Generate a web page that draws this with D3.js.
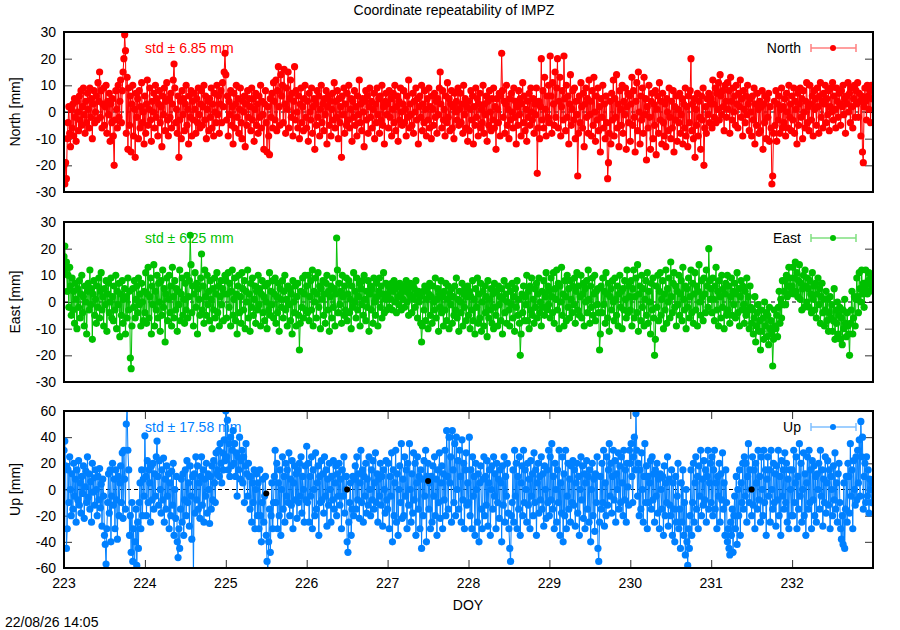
<!DOCTYPE html>
<html><head><meta charset="utf-8">
<script src="https://cdn.jsdelivr.net/npm/d3@7"></script>
<style>body{margin:0;background:#fff} text{font-family:"Liberation Sans",Arial,Helvetica,sans-serif}</style>
</head><body><svg id="c" width="900" height="630"></svg>
<script>
const startDOY = 223, stepDOY = 0.01;
const xTicks = [223,224,225,226,227,228,229,230,231,232];
const neTicks = [-30,-20,-10,0,10,20,30];
const upTicks = [-60,-40,-20,0,20,40,60];

const north = [
-20,-27,-19,-25,-10,-4,2,-8,-13,1, -6,3,-9,5,-2,-11,4,0,-7,6, -3,8,-5,2,9,-1,-8,4,-4,7, 1,-6,9,-2,5,-10,3,8,-4,0, 6,-3,11,4,15,-2,8,-6,3,9,
-5,2,10,-8,4,-1,7,-11,3,-4, 5,-9,-20,-3,8,1,-6,10,-2,4, 12,-4,8,15,20,29,23,-8,13,-14, 9,-5,6,-15,3,10,-9,1,-17,7, -2,5,-10,8,-6,2,11,-4,0,-12,
6,-8,3,12,-5,1,9,-3,-11,4, 0,7,-6,10,-2,5,-9,3,8,-4, 2,-13,6,-1,9,-7,4,11,-3,-9, 5,-2,7,-6,3,12,18,9,-4,1, -8,6,-17,-3,4,-10,8,-1,5,-7,
3,10,-5,1,-12,6,-2,8,-9,4, -3,7,1,-8,5,-4,9,-1,-6,3, 8,-5,2,10,-3,6,-10,1,4,-7, 5,-2,9,-6,3,-9,7,0,-4,10, -1,6,-8,3,8,-4,11,2,15,22,
14,-3,6,-9,4,-1,8,-5,2,-12, 7,-6,3,10,-2,5,-8,1,9,-4, -10,4,0,6,-13,3,-5,8,-2,5, 2,-7,9,-3,5,-11,1,7,-5,3, -8,6,-2,10,-6,4,-1,-14,3,8,
-4,-15,2,-9,-16,5,-2,7,-6,11, 4,-3,12,-7,8,17,2,-5,14,6, 10,-4,16,3,-8,9,1,15,-6,5, 12,-2,7,-9,4,17,-3,8,0,-6, 6,-10,3,9,-4,2,-7,5,10,-2,
-6,4,-11,7,0,-3,9,-8,2,5, -14,3,-5,8,-2,6,-9,1,10,-4, 3,-7,5,-1,8,-12,2,6,-5,4, -9,1,7,-3,11,-6,4,-2,8,-10, 5,-4,2,-17,6,-1,9,-8,3,-5,
7,-3,10,-6,1,5,-11,4,-2,8, -5,2,-9,6,-1,12,-4,3,-7,5, 0,-13,4,8,-3,6,-8,2,9,-2, 4,-6,1,7,-10,3,-4,9,-1,5, -8,6,-3,10,-5,2,-12,4,7,-1,
3,-6,8,-2,5,-9,1,7,-4,10, -7,2,6,-11,4,-3,9,0,-5,3, 8,-4,1,-9,6,-2,12,-6,3,-1, -5,7,-8,4,0,9,-3,5,-12,2, 6,-2,10,-7,3,-4,8,1,-9,5,
-3,9,-6,2,-10,6,1,-5,7,-2, 4,-8,5,-1,9,15,3,-6,8,-3, 1,-9,6,-4,11,-2,5,-7,3,8, -6,2,-10,7,0,4,-3,9,-5,1, 7,-4,3,-8,10,-1,5,-6,2,-11,
4,-7,1,8,-3,6,-12,2,-5,9, -2,5,-9,3,7,-6,1,-4,10,-8, 3,-1,6,-11,4,-5,8,0,-7,5, -3,9,-6,2,-14,5,1,-4,7,-9, 6,22,8,-2,4,-8,3,10,-5,1,
-10,5,-3,7,0,-6,9,-2,4,-12, 2,-5,8,-1,5,-9,3,11,-4,6, -7,1,-11,4,-2,7,-5,9,0,-3, 5,-8,3,-1,9,-23,-6,4,-10,2, 20,-3,8,-6,13,1,-9,6,-2,10,
-4,21,6,-8,11,3,-5,15,-2,9, 20,-6,4,13,-9,2,8,-3,21,5, -7,10,-2,6,-12,3,14,-5,1,8, -3,9,-10,4,-1,-24,-8,6,-4,11, 2,-6,7,-13,3,9,-2,5,-8,12,
-1,4,-9,8,-5,13,0,-11,6,-3, 9,-7,2,-15,5,-2,10,-6,3,-10, 6,-4,-25,-19,-8,4,-12,7,-3,12, -9,5,-2,14,-6,3,-13,8,1,-5, 10,-8,4,-1,9,-14,2,7,-4,6,
-11,3,13,-5,8,-2,-15,4,11,-7, 15,0,-12,6,-3,9,-8,13,-1,5, -18,2,-6,10,-2,-14,4,7,-10,3, -5,8,-16,1,6,-8,11,-3,4,-12, 7,-4,-9,3,-13,5,0,-7,9,-2,
-10,4,-6,8,-15,2,-3,6,-11,1, -4,7,-8,-1,5,-12,3,-6,9,-9, 2,-13,6,-4,8,20,-7,3,-10,5, -17,1,-5,7,-9,4,-2,-14,6,-3, 9,-20,-6,2,-8,5,-1,7,-4,3,
5,-6,12,3,-2,9,-4,7,1,11, -3,14,6,-1,8,2,-7,10,4,-2, 11,1,8,-8,13,4,-3,9,0,6, -5,10,3,-6,7,2,12,-2,5,-9, 8,1,-4,6,-1,10,3,-7,5,0,
-9,6,-3,9,-12,3,-5,7,1,-8, 4,-7,2,8,-14,3,-4,6,-10,5, -2,7,-11,2,-6,-27,-24,-8,4,-5, 8,-11,3,-3,6,-8,1,9,-6,2, -4,5,-9,7,0,-6,10,-2,3,-7,
6,-3,9,-8,4,1,-12,7,-5,3, 9,-2,5,-10,8,0,-6,4,11,-4, 2,-7,10,3,-3,6,-9,8,1,5, -5,9,2,-8,6,11,-2,4,-6,7, 3,10,-4,5,-1,8,-7,2,9,0,
11,-3,6,1,-6,9,4,-2,7,3, -5,8,2,10,-1,5,-8,6,3,11, 0,7,-4,9,2,-6,5,10,-2,8, 3,11,-2,7,4,-9,6,-15,-19,2, 9,4,-3,10,6,1,8,-4,10,5
];
const east = [
17,21,12,15,4,10,-2,13,6,-5, 9,-3,4,-8,7,1,-10,5,-2,8, -6,3,10,-4,2,-9,6,0,-12,4, 7,-3,12,-1,5,-14,3,8,-5,1, -8,6,-2,9,-6,4,11,-3,2,-9,
5,-1,8,-11,3,7,-4,0,9,-6, 2,-7,6,-3,10,-10,4,-1,7,-13, 3,-5,8,-8,1,5,-12,2,-6,9, -3,4,-21,-25,-9,5,-2,8,-6,1, 6,-4,9,-1,3,-9,7,0,-7,4,
-4,11,-8,3,13,-6,2,9,-12,6, -1,14,-9,4,-3,10,-6,7,0,-11, 8,-5,12,-2,5,-15,3,9,-7,1, 10,-4,6,-9,13,2,-6,8,-3,5, -11,4,-1,12,-7,3,9,-5,1,-8,
7,-3,10,-6,2,8,25,14,-4,6, -9,3,11,-2,7,-12,5,1,-5,9, 18,-3,6,-8,12,2,-5,10,-1,4, -7,8,1,-10,5,-3,9,-6,3,11, -4,6,-9,2,8,-1,5,-7,3,10,
8,-6,3,11,-2,7,-9,4,12,-5, 1,9,-7,3,-12,6,10,-4,2,-8, 11,5,-3,8,-10,4,0,12,-6,3, -11,7,-2,9,-5,1,6,-8,4,-3, 10,-1,5,-9,3,8,-4,2,-7,6,
0,-10,7,-3,11,-5,4,-1,8,-6, 3,9,-8,2,-4,7,-11,5,1,-2, 8,-6,4,10,-3,1,-9,6,-1,5, -7,3,-12,8,0,-4,6,-9,2,7, -5,-18,-8,4,-2,9,-6,3,10,-3,
6,-4,10,-7,2,8,-3,12,-9,4, 0,9,-6,3,11,-2,6,-10,5,1, 8,-5,3,-8,7,10,-3,4,-11,2, 6,-6,9,-2,5,-9,3,24,12,-4, 7,-1,4,-8,10,2,-5,6,-3,9,
-7,3,8,-4,1,-10,6,-2,11,0, 4,-6,9,-3,2,7,-9,5,-1,8, -5,10,1,-7,4,-2,8,-11,3,6, -3,5,-8,9,0,-5,7,2,-9,4, 9,-2,6,-6,3,11,-4,1,7,-3,
3,6,-2,5,1,7,-3,4,8,0, 5,-4,6,2,-1,7,3,-3,5,1, 6,-2,4,8,0,5,-5,3,7,2, -4,6,1,5,-2,8,3,-6,4,0, 2,-8,-15,-9,4,-3,6,-7,1,5,
-10,3,7,-5,2,-8,6,0,-3,9, -6,1,5,-11,3,-2,8,-4,2,-9, 4,-3,7,-7,1,6,-10,3,-1,5, -8,2,-5,6,-3,9,-6,1,-11,4, 0,-4,7,-9,3,-2,5,-7,2,6,
-5,4,-10,2,-3,8,-7,1,-12,5, -2,9,-8,3,-6,7,-11,0,4,-9, 6,-4,2,-13,8,-6,1,-3,5,-8, 3,-10,7,-2,-5,4,-9,6,-1,2, -7,5,-12,1,8,-4,3,-8,0,6,
-3,-9,4,-1,7,-6,2,-11,5,-2, 8,-5,1,-8,-20,-12,3,-4,6,-7, 2,-1,10,-7,4,-10,6,-3,9,-5, 1,-8,5,-2,7,-6,3,9,-4,0, -9,4,-2,8,-5,2,11,-3,6,-1,
4,-6,9,2,-4,11,-8,5,1,12, -3,7,-10,6,0,13,-5,3,-9,8, 2,-7,10,-2,5,-6,8,1,-4,6, -1,9,-8,4,11,-3,6,-5,2,10, -6,3,7,-9,5,0,8,-4,12,1,
-8,6,-2,9,-5,3,10,-7,4,-1, 5,-4,-18,-12,6,-4,9,-1,4,-8, 11,3,-6,7,-11,2,5,-3,8,0, -7,9,1,-5,6,-9,3,10,-2,4, -10,5,-3,8,1,-6,12,-4,6,2,
-3,8,-9,5,12,-6,2,9,-4,14, -11,3,6,-7,10,-2,5,-9,1,8, -5,11,-8,4,0,-12,7,-3,9,-6, -20,-14,6,-2,10,-7,4,11,-5,1, 8,-10,3,-3,12,-8,5,0,9,-6,
15,2,-4,7,11,-2,6,-9,4,-1, 10,-5,3,8,-7,13,1,-3,6,-10, 5,-2,9,-6,2,12,-4,7,-8,3, 11,-3,6,-9,4,14,0,-5,8,2, -7,9,3,-4,12,6,-2,20,8,1,
5,-4,9,1,-7,6,13,-3,4,-9, 8,2,-6,10,-2,5,-10,3,7,-5, 10,-3,6,-8,2,9,-5,4,-1,7, -6,3,11,-4,5,-9,2,8,-3,6, -1,-8,4,-5,9,-3,2,-10,6,-2,
-8,-3,-12,-6,2,-15,-9,-4,-1,-11, -7,-18,-3,-11,-6,-14,0,-9,-4,-13, -5,-16,-2,-10,-7,-12,-24,-14,-3,-9, -10,-5,-13,-2,4,-8,1,-6,8,-1, 4,8,-1,10,2,6,13,3,9,5,
6,13,3,9,15,4,11,2,8,14, 1,7,-3,5,10,-2,12,6,0,9, 5,-2,8,3,-4,11,1,6,-3,7, -6,3,9,-1,5,-8,2,7,-4,1, -9,-3,4,-7,1,-11,-4,2,-6,-1,
-11,-7,5,-14,-3,-8,0,-12,-5,-2, -14,-6,-16,-3,-10,1,-8,-13,-4,-9, -12,-20,-8,-3,4,-12,-6,2,-9,1, 9,2,-4,11,5,0,12,3,7,-2, 5,12,7,3,8,11,4,9,6,8
];
const up = [
30,37,18,-45,-30,15,-10,25,0,-20, 12,-15,20,-5,8,-25,15,-8,22,-12, 5,-18,10,-3,18,-22,2,14,-10,25, -6,12,-15,6,-25,20,-2,9,-12,15, 0,-20,10,-8,16,-14,4,-28,8,-5,
-35,-42,-57,-30,-10,12,-18,15,-40,-5, 20,-12,8,-30,15,-8,-38,10,-20,5, 18,-10,28,-22,30,8,-15,50,62,30, 15,-35,-20,-48,-10,-55,-30,-62,-40,-15, -58,-25,-45,-10,5,-30,15,-20,8,-5,
41,10,-20,22,-10,15,5,-25,18,-8, 20,-15,12,-5,25,37,10,-12,22,0, -18,15,-8,24,-25,8,-15,18,-5,12, -30,5,-20,14,-12,20,-35,0,-22,10, -40,-52,-30,-45,-15,8,-25,12,-35,-8,
15,-20,22,-10,5,-28,18,-5,-38,10, -70,12,-18,25,-8,18,-15,5,-22,10, 25,-12,15,-25,8,-5,20,-18,12,0, -26,10,-15,18,-8,22,5,-10,28,12, 15,30,10,35,20,5,28,15,38,22,
60,25,53,15,35,10,40,18,30,45, 20,35,10,28,-5,25,15,40,8,22, 30,5,25,-10,18,35,12,-5,20,10, -15,10,-25,5,-10,15,-30,0,12,-20, 5,-30,15,-20,-40,-10,8,-25,-5,10,
-35,-55,-62,-40,-15,-48,-20,5,-30,-10, 10,30,-10,20,-30,5,-20,15,-35,0, 25,-15,10,-25,20,-5,15,-10,28,-20, 8,-12,22,-30,5,18,-8,12,-22,15, -10,20,-5,25,-18,10,0,-25,18,-8,
33,-10,20,-25,10,-5,25,-30,15,0, -20,28,-15,5,18,-35,10,-10,22,-8, 12,-18,25,-5,15,-28,8,-12,20,0, -25,10,-8,22,-15,5,18,-20,12,-5, 20,-12,8,-30,15,-5,25,-18,0,10,
-40,-48,-25,-10,5,-35,-15,10,-20,8, 18,-15,25,-8,12,-22,5,30,-10,15, -25,10,-5,20,-18,8,-12,25,0,-20, 15,-8,22,-15,5,28,-10,12,-25,8, -5,20,-12,10,-28,15,0,-18,22,-8,
-15,20,-30,10,-5,28,-40,15,-20,5, 30,-25,12,-35,0,18,-10,35,-22,8, -20,25,-5,15,-30,20,-12,35,0,-25, 12,-18,28,-8,20,-35,5,25,-15,10, -30,15,-45,8,-20,22,-5,30,-40,10,
20,-15,5,-30,10,-25,18,-5,25,-20, 8,-35,15,-10,28,-22,5,18,-30,12, -8,30,-20,45,10,-15,40,5,25,-25, 45,15,-10,35,-20,40,0,22,-15,30, 10,-25,38,-8,20,-30,15,28,-12,5,
-10,40,-20,15,-30,25,-5,10,-35,20, 0,-25,12,-40,5,18,-15,-30,8,25, -20,10,-12,22,-28,5,15,-35,0,18, -15,25,-5,12,-30,20,-10,8,-22,15, 5,-40,18,-12,25,-25,10,-5,20,-18,
-30,-45,-55,-20,-10,15,-25,30,-5,20, -30,10,-15,25,-35,5,18,-20,30,-10, 15,0,-25,20,-12,8,-30,22,-5,12, -20,28,-10,15,-35,5,20,-18,10,-8, 25,-15,12,-28,18,0,-22,15,-10,30,
-20,25,-8,35,-15,10,-30,20,0,-25, 15,-10,30,-35,5,-18,25,-40,12,-20, 30,-30,-5,20,-15,8,-25,18,-10,22, -12,15,-28,5,20,-18,10,-35,0,25, -8,18,-22,12,-30,5,22,-15,10,-25,
15,-40,0,20,-20,8,-32,12,-10,25, -45,-55,-25,10,-15,20,-10,30,-28,5, -20,25,-12,15,35,-5,20,-18,10,30, -8,22,-25,12,0,28,-15,18,-10,25, 5,-20,30,-8,15,-25,20,2,-12,30,
20,35,10,-10,25,40,15,58,30,-5, 20,-20,15,-15,28,0,-25,10,35,-10, 18,-30,10,-10,5,22,-15,25,-8,12, -25,15,-5,20,-18,8,-30,12,0,-15, 10,-35,18,-20,5,-10,25,-28,8,-12,
-20,15,-35,5,-15,-40,10,-25,-5,20, -30,-15,-45,5,-25,15,-35,-10,-50,0, -40,-58,-30,-45,-20,15,-35,-10,20,-25, 5,25,-15,10,-30,18,-5,30,-20,8, -12,22,-8,15,-25,10,30,-15,5,20,
-10,25,-20,15,30,-15,5,-30,10,-5, 20,-25,12,-8,28,-15,5,-35,15,-10, -40,-30,-45,-50,-25,-35,-15,-48,-20,-5, -30,10,-42,0,-20,15,-35,5,-10,20, -15,25,-5,20,-25,10,35,-10,15,0,
-20,25,-12,15,-30,20,5,-15,30,-8, 10,-25,25,0,-20,30,-10,15,-35,8, 25,-5,15,-25,30,0,-15,20,-10,12, -28,18,-8,30,-20,10,-35,22,-5,15, -15,28,-10,20,-25,8,-30,15,0,-20,
15,-20,30,-10,5,25,-30,10,-15,35, -5,20,-25,0,28,-20,12,-35,5,25, -15,30,-10,15,-30,22,-8,18,-20,10, -25,12,0,20,-15,30,-5,15,-28,8, -10,25,-18,5,22,-12,15,-30,10,0,
-20,18,-8,28,-15,5,-25,12,20,-10, -30,-38,-20,-42,5,-45,-15,10,-25,20, 10,-18,35,-5,15,-30,22,0,-12,25, -8,30,5,38,-5,52,25,40,-15,10, 20,-10,25,-5,15,-18,8,0,-10,5
];
const upRefDOY = [225.5, 226.5, 227.5, 231.5];
const upRefVal = [-3, 0, 6.5, 0];

const panels = [
  {name:"North", label:"North [mm]", std:"6.85", data:north, color:"#ff0000", light:"#ff7f7f", top:32, bottom:192, dom:[-30,30], ticks:neTicks, xlab:false},
  {name:"East", label:"East [mm]", std:"6.25", data:east, color:"#00c000", light:"#7fdf7f", top:222, bottom:382, dom:[-30,30], ticks:neTicks, xlab:false},
  {name:"Up", label:"Up [mm]", std:"17.58", data:up, color:"#0080ff", light:"#7fbfff", top:411, bottom:568, dom:[-60,60], ticks:upTicks, xlab:true}
];

const svg = d3.select("#c");
const L = 64, R = 873;
const x = d3.scaleLinear().domain([223,233]).range([L,R]);
const FS = 14;

svg.append("text").attr("x",454).attr("y",15).attr("text-anchor","middle").attr("font-size",FS).text("Coordinate repeatability of IMPZ");

panels.forEach((p,pi)=>{
  const y = d3.scaleLinear().domain(p.dom).range([p.bottom,p.top]);
  const g = svg.append("g");
  const cid = "clip"+pi;
  svg.append("clipPath").attr("id",cid).append("rect").attr("x",L).attr("y",p.top).attr("width",R-L).attr("height",p.bottom-p.top);

  const yAxL = d3.axisRight(y).tickValues(p.ticks).tickSize(8).tickFormat("");
  g.append("g").attr("transform",`translate(${L},0)`).call(yAxL).call(a=>{a.select(".domain").remove();a.selectAll("line").attr("stroke","#333");});
  const yAxR = d3.axisLeft(y).tickValues(p.ticks).tickSize(8).tickFormat("");
  g.append("g").attr("transform",`translate(${R},0)`).call(yAxR).call(a=>{a.select(".domain").remove();a.selectAll("line").attr("stroke","#333");});
  g.selectAll("text.yl").data(p.ticks).join("text").attr("class","yl")
    .attr("x",56).attr("y",d=>y(d)+5).attr("text-anchor","end").attr("font-size",FS).text(d=>d);
  if (p.xlab) {
    const xb = d3.axisTop(x).tickValues(xTicks).tickSize(8).tickFormat("");
    g.append("g").attr("transform",`translate(0,${p.bottom})`).call(xb).call(a=>{a.select(".domain").remove();a.selectAll("line").attr("stroke","#333");});
    const xt = d3.axisBottom(x).tickValues(xTicks).tickSize(8).tickFormat("");
    g.append("g").attr("transform",`translate(0,${p.top})`).call(xt).call(a=>{a.select(".domain").remove();a.selectAll("line").attr("stroke","#333");});
    g.selectAll("text.xl").data(xTicks).join("text").attr("class","xl")
      .attr("x",d=>x(d)).attr("y",p.bottom+20).attr("text-anchor","middle").attr("font-size",FS).text(d=>d);
  }
  const cy = (p.top+p.bottom)/2;
  g.append("text").attr("transform",`translate(20,${cy}) rotate(-90)`).attr("text-anchor","middle").attr("font-size",FS).text(p.label);

  g.append("text").attr("x",145).attr("y",p.top+21).attr("fill",p.color).attr("font-size",FS).text("std \u00b1 "+p.std+" mm");

  const plot = g.append("g").attr("clip-path",`url(#${cid})`);
  plot.append("line").attr("x1",L).attr("x2",R).attr("y1",y(0)).attr("y2",y(0))
    .attr("stroke","#000").attr("stroke-width",1).attr("stroke-dasharray","4,3");

  const pts = p.data.map((v,i)=>[startDOY+i*stepDOY, v]);
  const line = d3.line().x(d=>x(d[0])).y(d=>y(d[1]));
  plot.append("path").attr("d",line(pts)).attr("fill","none").attr("stroke",p.color).attr("stroke-width",1);
  plot.selectAll("circle.pt").data(pts).join("circle").attr("class","pt")
    .attr("cx",d=>x(d[0])).attr("cy",d=>y(d[1])).attr("r",3.6).attr("fill",p.color);

  if (p.name==="Up") {
    plot.selectAll("circle.ref").data(upRefDOY).join("circle").attr("class","ref")
      .attr("cx",d=>x(d)).attr("cy",(d,i)=>y(upRefVal[i])).attr("r",3).attr("fill","#000");
  }

  g.append("rect").attr("x",L).attr("y",p.top).attr("width",R-L).attr("height",p.bottom-p.top)
    .attr("fill","none").attr("stroke","#000").attr("stroke-width",2);

  const ly = p.top+16;
  g.append("text").attr("x",801).attr("y",ly+5).attr("text-anchor","end").attr("font-size",FS).text(p.name);
  g.append("line").attr("x1",811).attr("x2",856).attr("y1",ly).attr("y2",ly).attr("stroke",p.light).attr("stroke-width",1.5);
  g.append("line").attr("x1",811).attr("x2",811).attr("y1",ly-4).attr("y2",ly+4).attr("stroke",p.light).attr("stroke-width",1.5);
  g.append("line").attr("x1",856).attr("x2",856).attr("y1",ly-4).attr("y2",ly+4).attr("stroke",p.light).attr("stroke-width",1.5);
  g.append("circle").attr("cx",833).attr("cy",ly).attr("r",3).attr("fill",p.color);
});

svg.append("text").attr("x",468).attr("y",610).attr("text-anchor","middle").attr("font-size",FS).text("DOY");
svg.append("text").attr("x",5).attr("y",627).attr("font-size",FS).text("22/08/26 14:05");
</script></body></html>
